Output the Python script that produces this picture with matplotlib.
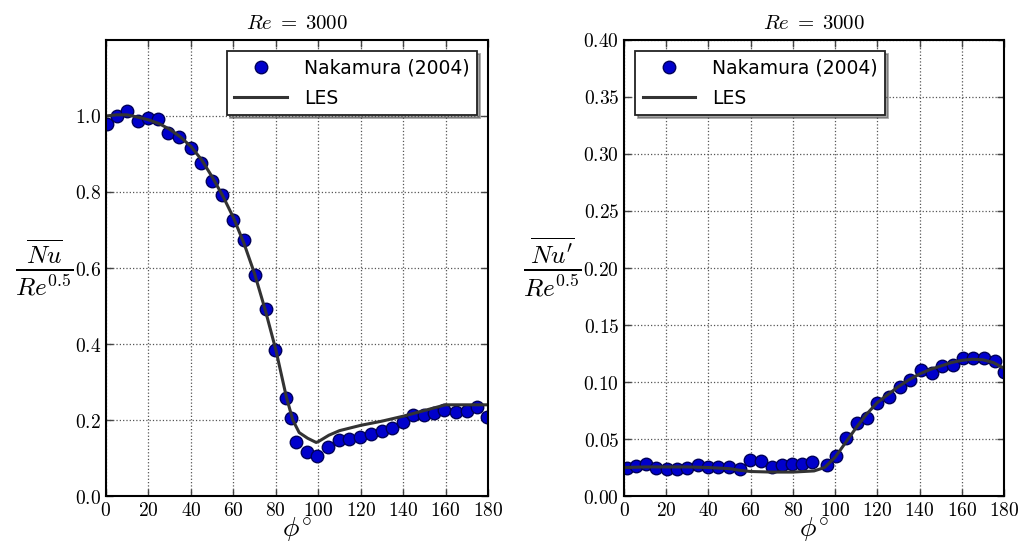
import matplotlib
matplotlib.use('Agg')
import matplotlib.pyplot as plt
from matplotlib.ticker import FuncFormatter

plt.rcParams['mathtext.fontset'] = 'cm'
plt.rcParams['font.family'] = 'DejaVu Sans'

# Nakamura (2004) -- mean Nusselt number
phi_nu = [0.3, 5, 10, 15, 19.6, 24.6, 29.4, 34.4, 39.9, 44.6, 49.8, 54.8, 60, 65, 70,
          75.3, 79.7, 84.7, 87.2, 89.5, 94.6, 99.6, 104.8, 109.8, 114.5, 119.7, 124.9,
          129.9, 134.9, 139.8, 144.8, 149.9, 154.7, 159.4, 164.9, 169.9, 174.9, 179.3]
nu_exp = [0.979, 0.999, 1.014, 0.988, 0.994, 0.992, 0.954, 0.945, 0.917, 0.876, 0.828,
          0.792, 0.726, 0.674, 0.582, 0.493, 0.383, 0.259, 0.204, 0.141, 0.115, 0.104,
          0.128, 0.148, 0.150, 0.156, 0.163, 0.172, 0.180, 0.194, 0.212, 0.214, 0.218,
          0.227, 0.220, 0.225, 0.234, 0.207]

# LES -- mean Nusselt number
phi_les = [0, 5, 10, 15, 20, 25, 30, 35, 40, 45, 50, 55, 60, 65, 70, 75, 80, 85, 88, 91,
           95, 99, 100, 105, 110, 120, 130, 140, 150, 160, 170, 180]
nu_les = [1.0, 1.003, 1.003, 0.997, 0.99, 0.98, 0.965, 0.945, 0.92, 0.885, 0.84, 0.79,
          0.733, 0.665, 0.585, 0.49, 0.385, 0.26, 0.2, 0.167, 0.152, 0.141, 0.143, 0.16,
          0.172, 0.186, 0.197, 0.21, 0.225, 0.24, 0.24, 0.24]

# Nakamura (2004) -- fluctuating Nusselt number
phi_nup = [1.6, 5.5, 10.3, 15, 20.2, 25.2, 30, 35.2, 39.9, 44.7, 49.9, 54.9, 59.7, 64.7,
           69.9, 74.7, 79.4, 84.2, 89.2, 96, 100.4, 105.2, 110.2, 115.3, 119.7, 125.7,
           130.5, 135.5, 140.5, 145.7, 150.4, 155.6, 160.7, 165.5, 170.5, 175.7, 180]
nup_exp = [0.0243, 0.0263, 0.028, 0.0243, 0.0237, 0.0237, 0.0249, 0.0272, 0.0257, 0.0257,
           0.0252, 0.0234, 0.0316, 0.031, 0.0257, 0.0272, 0.0278, 0.028, 0.0295, 0.0272,
           0.0351, 0.0506, 0.0643, 0.0681, 0.0819, 0.0871, 0.0959, 0.1018, 0.1105, 0.1076,
           0.114, 0.1149, 0.1208, 0.1208, 0.1208, 0.1187, 0.1085]

# LES -- fluctuating Nusselt number
phi_les2 = [0, 10, 20, 30, 40, 50, 55, 60, 70, 80, 90, 95, 100, 105, 110, 115, 120, 125,
            130, 135, 140, 145, 150, 155, 160, 165, 170, 175, 180]
nup_les = [0.025, 0.0255, 0.0255, 0.0255, 0.025, 0.024, 0.0225, 0.0215, 0.021, 0.021,
           0.022, 0.025, 0.034, 0.047, 0.060, 0.072, 0.082, 0.089, 0.096, 0.102, 0.107,
           0.111, 0.114, 0.117, 0.119, 0.12, 0.1195, 0.117, 0.112]

fig = plt.figure(figsize=(10.19, 5.44), dpi=100)
ax1 = fig.add_axes([0.104, 0.0882, 0.375, 0.8383])
ax2 = fig.add_axes([0.6124, 0.0882, 0.3729, 0.8383])

mk = dict(linestyle='none', marker='o', markersize=9, color='#0000cc',
          markeredgecolor='#00005a', markeredgewidth=1.0)
ln = dict(color='#333333', linewidth=2.2)

ax1.plot(phi_nu, nu_exp, label='Nakamura (2004)', **mk)
ax1.plot(phi_les, nu_les, label='LES', **ln)
ax2.plot(phi_nup, nup_exp, label='Nakamura (2004)', **mk)
ax2.plot(phi_les2, nup_les, label='LES', **ln)

ax1.set_ylim(0, 1.2)
ax1.set_yticks([0.0, 0.2, 0.4, 0.6, 0.8, 1.0])
ax1.yaxis.set_major_formatter(FuncFormatter(lambda v, p: r'$%.1f$' % v))
ax2.set_ylim(0, 0.4)
ax2.set_yticks([0.0, 0.05, 0.1, 0.15, 0.2, 0.25, 0.3, 0.35, 0.4])
ax2.yaxis.set_major_formatter(FuncFormatter(lambda v, p: r'$%.2f$' % v))

for ax in (ax1, ax2):
    ax.set_xlim(0, 180)
    ax.set_xticks(range(0, 181, 20))
    ax.xaxis.set_major_formatter(FuncFormatter(lambda v, p: r'$%d$' % v))
    ax.tick_params(direction='in', top=True, right=True, length=5, labelsize=14,
                   width=1, color='#444444')
    ax.grid(True, linestyle=':', color='#555555', linewidth=0.9)
    for s in ax.spines.values():
        s.set_linewidth(1.5)
    ax.set_title(r'$Re\;=\;3000$', fontsize=15, pad=8)
    ax.set_xlabel(r'$\phi^{\circ}$', fontsize=20, labelpad=-3)

ax1.set_ylabel(r'$\frac{\overline{Nu}}{Re^{0.5}}$', fontsize=26, rotation=0,
               labelpad=22, va='center')
ax2.set_ylabel(r"$\frac{\overline{Nu'}}{Re^{0.5}}$", fontsize=26, rotation=0,
               labelpad=22, va='center')

for ax, loc in ((ax1, 'upper right'), (ax2, 'upper left')):
    leg = ax.legend(loc=loc, fontsize=13.5, shadow=True, fancybox=False, numpoints=1,
                    framealpha=1, borderaxespad=0.6, handlelength=2.8,
                    handletextpad=0.9, labelspacing=0.6)
    leg.get_frame().set_edgecolor('#222222')
    leg.get_frame().set_linewidth(1.3)

plt.savefig('out.png', dpi=100)
